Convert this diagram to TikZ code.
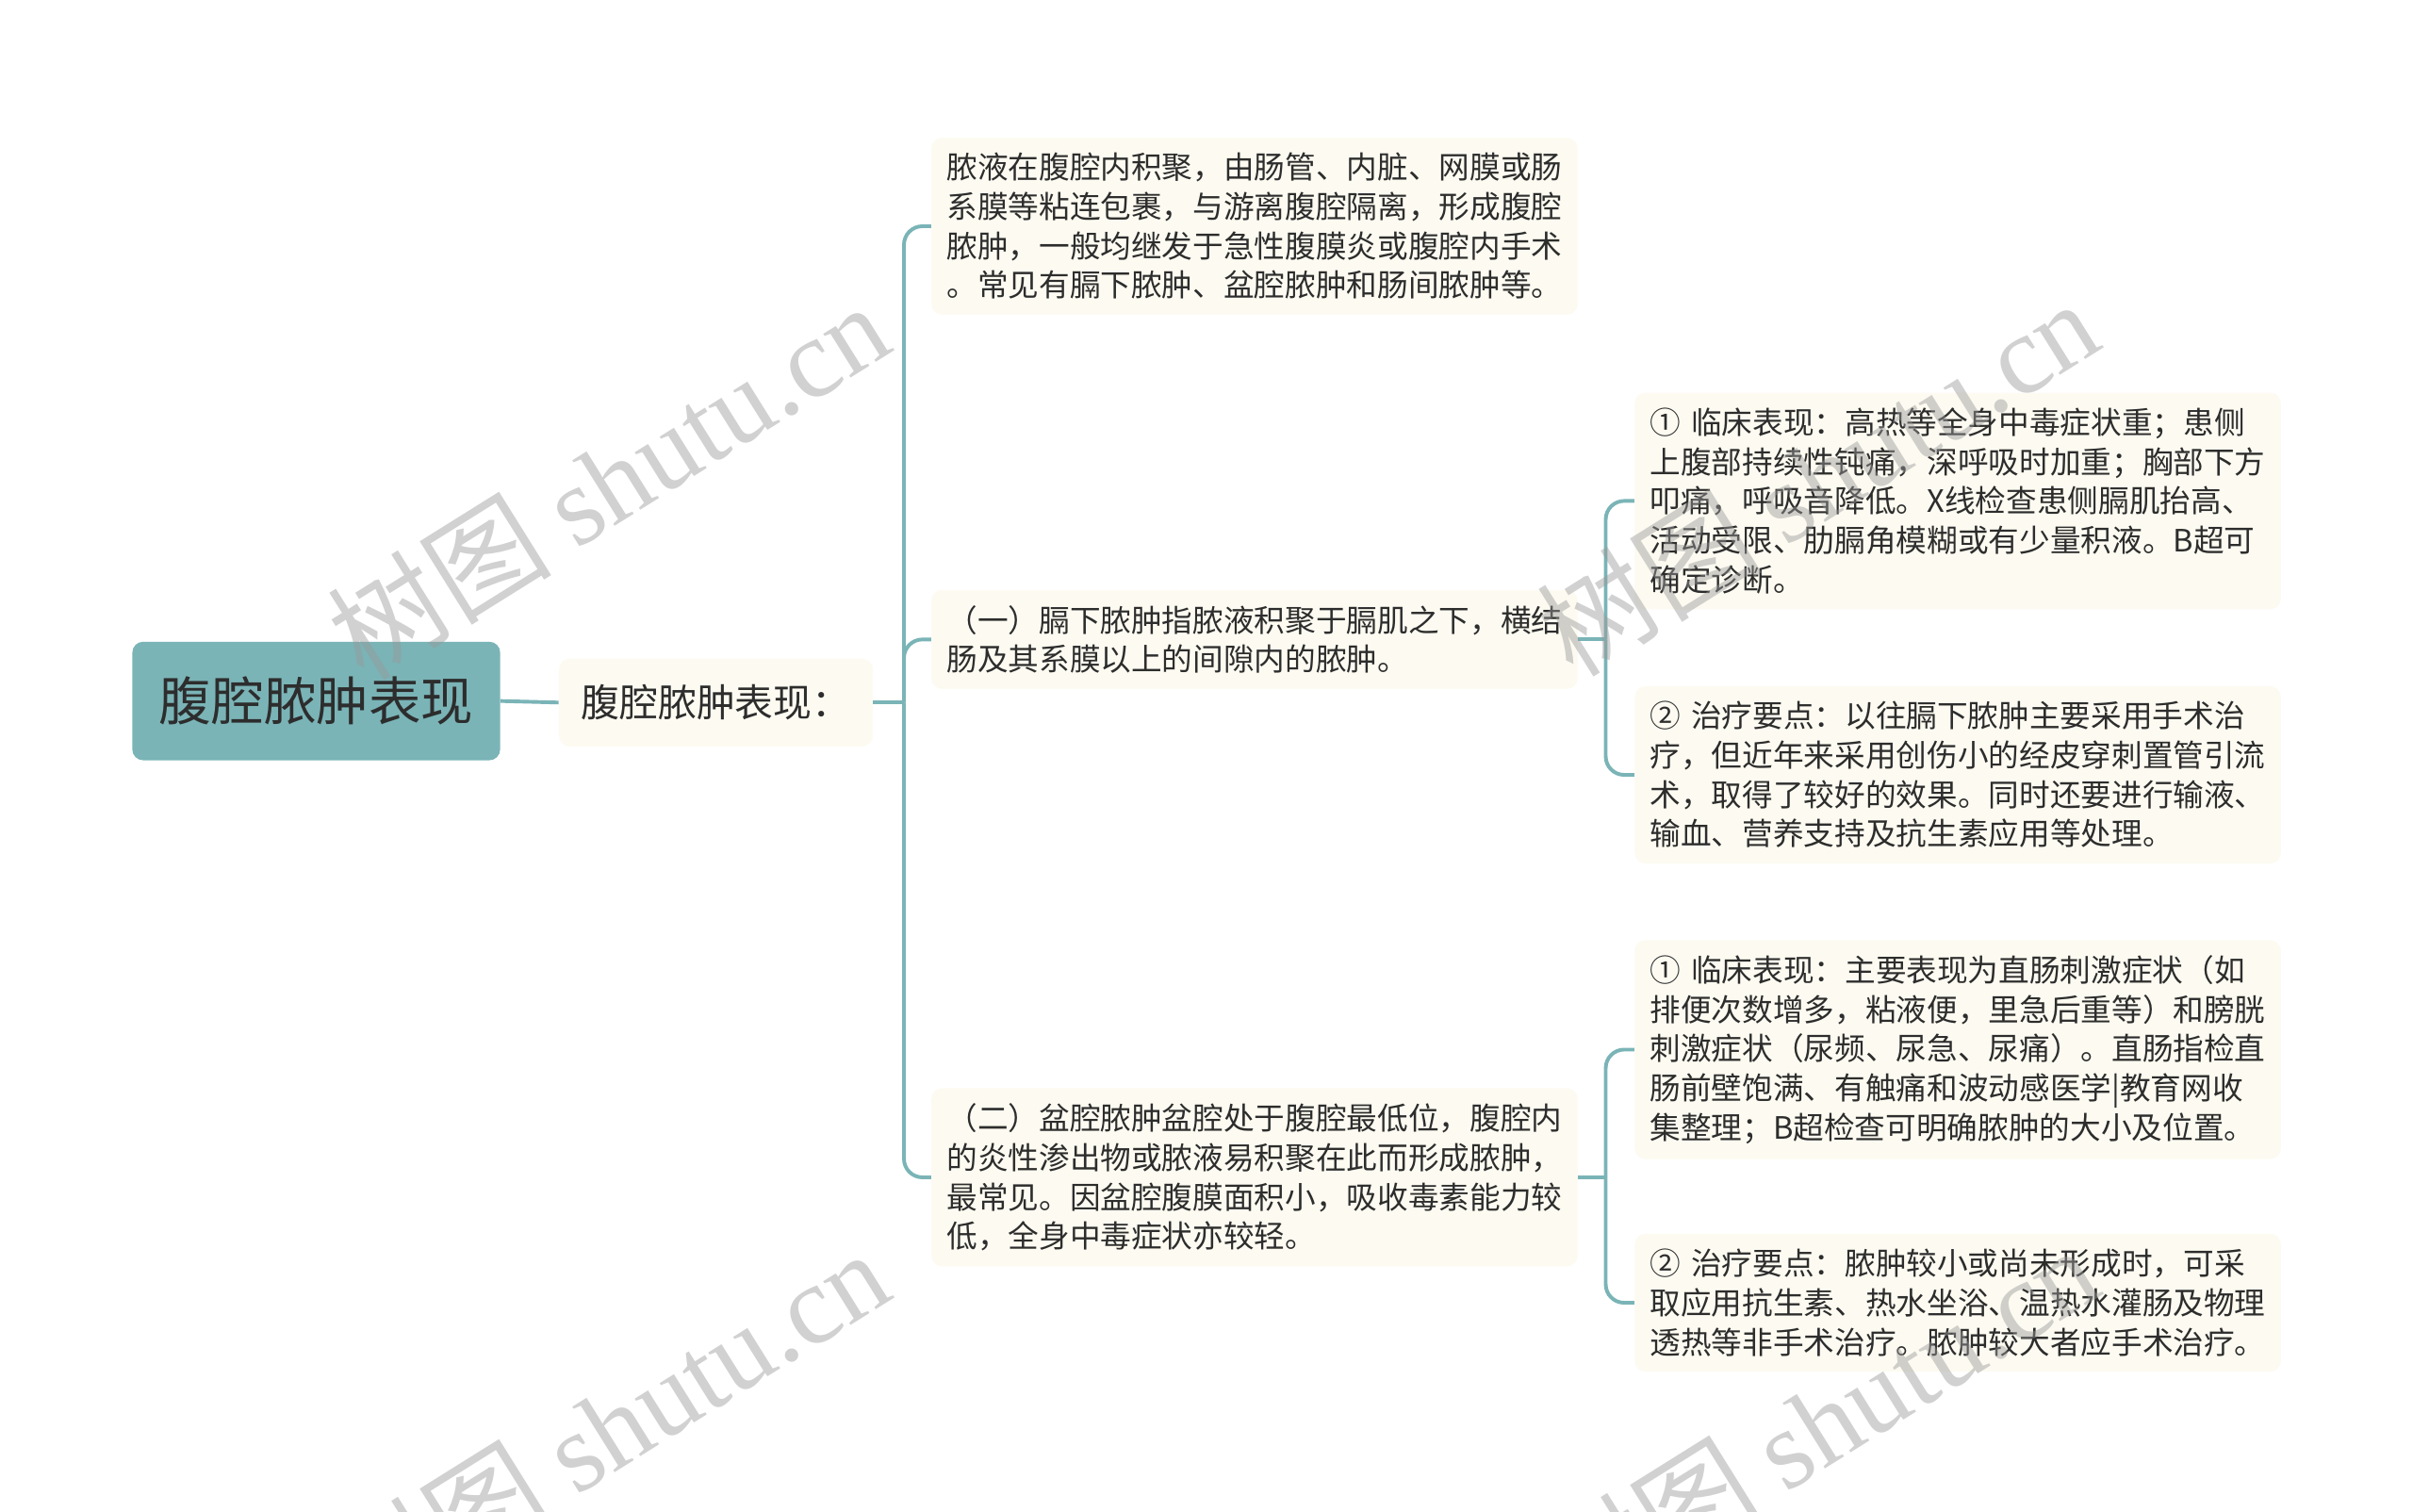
\documentclass[tikz,border=0pt]{standalone}
\usepackage{fontspec}
\setmainfont{Noto Sans CJK SC}
\newfontfamily\wmfont{Liberation Serif}
\usetikzlibrary{calc}
\definecolor{cus-teal}{RGB}{122, 180, 183}
\definecolor{cus-cream}{RGB}{253, 251, 241}
\definecolor{cus-text}{RGB}{45, 45, 45}
\tikzset{
	rootbox/.style={fill=cus-teal, rounded corners=7pt, minimum width=239pt, minimum height=77pt,
		text=cus-text, font=\fontsize{34pt}{40pt}\selectfont},
	subbox/.style={fill=cus-cream, rounded corners=7pt, anchor=west, minimum width=204pt, minimum height=57pt,
		text=cus-text, font=\fontsize{25pt}{30pt}\selectfont},
	leafbox/.style={fill=cus-cream, rounded corners=7pt, anchor=west, text width=400pt, align=left,
		inner xsep=10pt, inner ysep=10pt, text=cus-text, font=\fontsize{20pt}{25.5pt}\selectfont},
	link/.style={draw=cus-teal, line width=2.4pt, rounded corners=12pt},
	wmark/.style={rotate=32, text=black!40, text opacity=0.45, font=\fontsize{73pt}{78pt}\selectfont}
}
\begin{document}
\begin{tikzpicture}[x=1pt, y=1pt]
\useasboundingbox (0,0) rectangle (1568,982);
\fill [white] (0,0) rectangle (1568,982);

% root and first level
\node [rootbox] (root) at (205.5,526.5) {腹腔脓肿表现};
\node [subbox] (sub) at (363,525.5) {腹腔脓肿表现：};

% second level
\node [leafbox] (ca) at (605,835) {脓液在腹腔内积聚，由肠管、内脏、网膜或肠\\系膜等粘连包裹，与游离腹腔隔离，形成腹腔\\脓肿，一般均继发于急性腹膜炎或腹腔内手术\\。常见有膈下脓肿、盆腔脓肿和肠间脓肿等。};
\node [leafbox] (cb) at (605,566.5) {（一）膈下脓肿指脓液积聚于膈肌之下，横结\\肠及其系膜以上的间隙内的脓肿。};
\node [leafbox] (cc) at (605,217) {（二）盆腔脓肿盆腔处于腹腔最低位，腹腔内\\的炎性渗出物或脓液易积聚在此而形成脓肿，\\最常见。因盆腔腹膜面积小，吸收毒素能力较\\低，全身中毒症状亦较轻。};

% third level
\node [leafbox] (b1) at (1062,656.5) {① 临床表现：高热等全身中毒症状重；患侧\\上腹部持续性钝痛，深呼吸时加重；胸部下方\\叩痛，呼吸音降低。X线检查患侧膈肌抬高、\\活动受限、肋膈角模糊或有少量积液。B超可\\确定诊断。};
\node [leafbox] (b2) at (1062,478.5) {② 治疗要点：以往膈下脓肿主要采用手术治\\疗，但近年来采用创伤小的经皮穿刺置管引流\\术，取得了较好的效果。同时还要进行输液、\\输血、营养支持及抗生素应用等处理。};
\node [leafbox] (c1) at (1062,300) {① 临床表现：主要表现为直肠刺激症状（如\\排便次数增多，粘液便，里急后重等）和膀胱\\刺激症状（尿频、尿急、尿痛）。直肠指检直\\肠前壁饱满、有触痛和波动感医学|教育网收\\集整理；B超检查可明确脓肿的大小及位置。};
\node [leafbox] (c2) at (1062,135.5) {② 治疗要点：脓肿较小或尚未形成时，可采\\取应用抗生素、热水坐浴、温热水灌肠及物理\\透热等非手术治疗。脓肿较大者应手术治疗。};

% connectors
\coordinate (j1) at ($(sub.east)+(20,0)$);
\coordinate (j2) at ($(cb.east)+(18,0)$);
\coordinate (j3) at ($(cc.east)+(18,0)$);
\draw [link] (root.east) -- (sub.west);
\draw [link] (sub.east) -- (j1);
\draw [link] (cb.east) -- (j2);
\draw [link] (cc.east) -- (j3);
\foreach \c in {ca,cb,cc}{
	\draw [link] (j1) |- (\c.west);
}
\foreach \c in {b1,b2}{
	\draw [link] (j2) |- (\c.west);
}
\foreach \c in {c1,c2}{
	\draw [link] (j3) |- (\c.west);
}

% watermarks
\foreach \x/\y [count=\i] in {395/670,395/55,1181/672,1181/57}{
	\node [wmark] (wm\i) at (\x,\y) {树图 {\wmfont shutu.cn}};
}
\end{tikzpicture}
\end{document}
